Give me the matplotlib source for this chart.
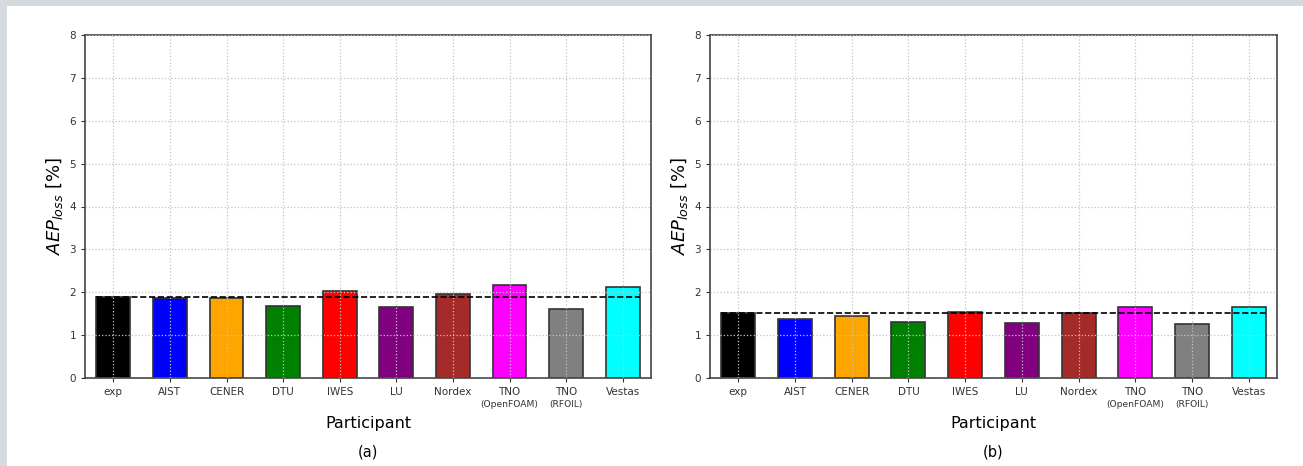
import matplotlib.pyplot as plt
from matplotlib.patches import Rectangle
import numpy as np

# Data
participants = ["exp", "AIST", "CENER", "DTU", "IWES", "LU", "Nordex", "TNO", "TNO", "Vestas"]
sub_labels = ["", "", "", "", "", "", "", "(OpenFOAM)", "(RFOIL)", ""]
colors = ["black", "blue", "orange", "green", "red", "purple", "brown", "magenta", "gray", "cyan"]
aep_a = [1.89, 1.86, 1.86, 1.68, 2.02, 1.65, 1.95, 2.16, 1.62, 2.13]
aep_b = [1.52, 1.38, 1.45, 1.30, 1.53, 1.29, 1.52, 1.66, 1.27, 1.66]
ref_a = 1.89   # dashed reference (exp)
ref_b = 1.51

fig = plt.figure(figsize=(13.03, 4.66), dpi=100, facecolor='#d5dae1')
# white panel over the faint backdrop
fig.patches.append(Rectangle((7/1303, 0), 1 - 7/1303, 1 - 6/466, transform=fig.transFigure,
                             facecolor='white', edgecolor='none', zorder=-10))

x = np.arange(len(participants))


def panel(rect, values, ref, tag):
    ax = fig.add_axes(rect)
    ax.set_zorder(1)
    ax.bar(x, values, width=0.6, color=colors, edgecolor='#333333', linewidth=1.2, zorder=2)
    ax.plot([x[0] - 0.3, x[-1] + 0.3], [ref, ref], color='black', linestyle='--', linewidth=1.2, zorder=4)
    ax.set_xlim(-0.5, 9.5)
    ax.set_ylim(0, 8)
    ax.set_yticks(range(0, 9))
    ax.set_xticks(x)
    ax.set_xticklabels(participants)
    ax.grid(True, color='#c4c4c4', linestyle=':', linewidth=0.9, zorder=3)
    ax.set_axisbelow(False)
    ax.tick_params(labelsize=7.5, labelcolor='#333333', color='#333333', length=3)
    for s in ax.spines.values():
        s.set_color('#444444')
        s.set_linewidth(1.2)
    for xi, sl in zip(x, sub_labels):
        if sl:
            ax.text(xi, -0.063, sl, transform=ax.get_xaxis_transform(), ha='center', va='top',
                    fontsize=6.6, color='#333333')
    ax.set_ylabel(r'$AEP_{loss}$ [%]', fontsize=13, labelpad=3)
    ax.set_xlabel('Participant', fontsize=11.5, labelpad=14)
    ax.text(0.5, -0.195, tag, transform=ax.transAxes, ha='center', va='top', fontsize=10.5)
    return ax


panel([85/1303, 88/466, 566/1303, 343/466], aep_a, ref_a, '(a)')
panel([710/1303, 88/466, 567/1303, 343/466], aep_b, ref_b, '(b)')

fig.savefig("out.png", dpi=100, facecolor=fig.get_facecolor())
